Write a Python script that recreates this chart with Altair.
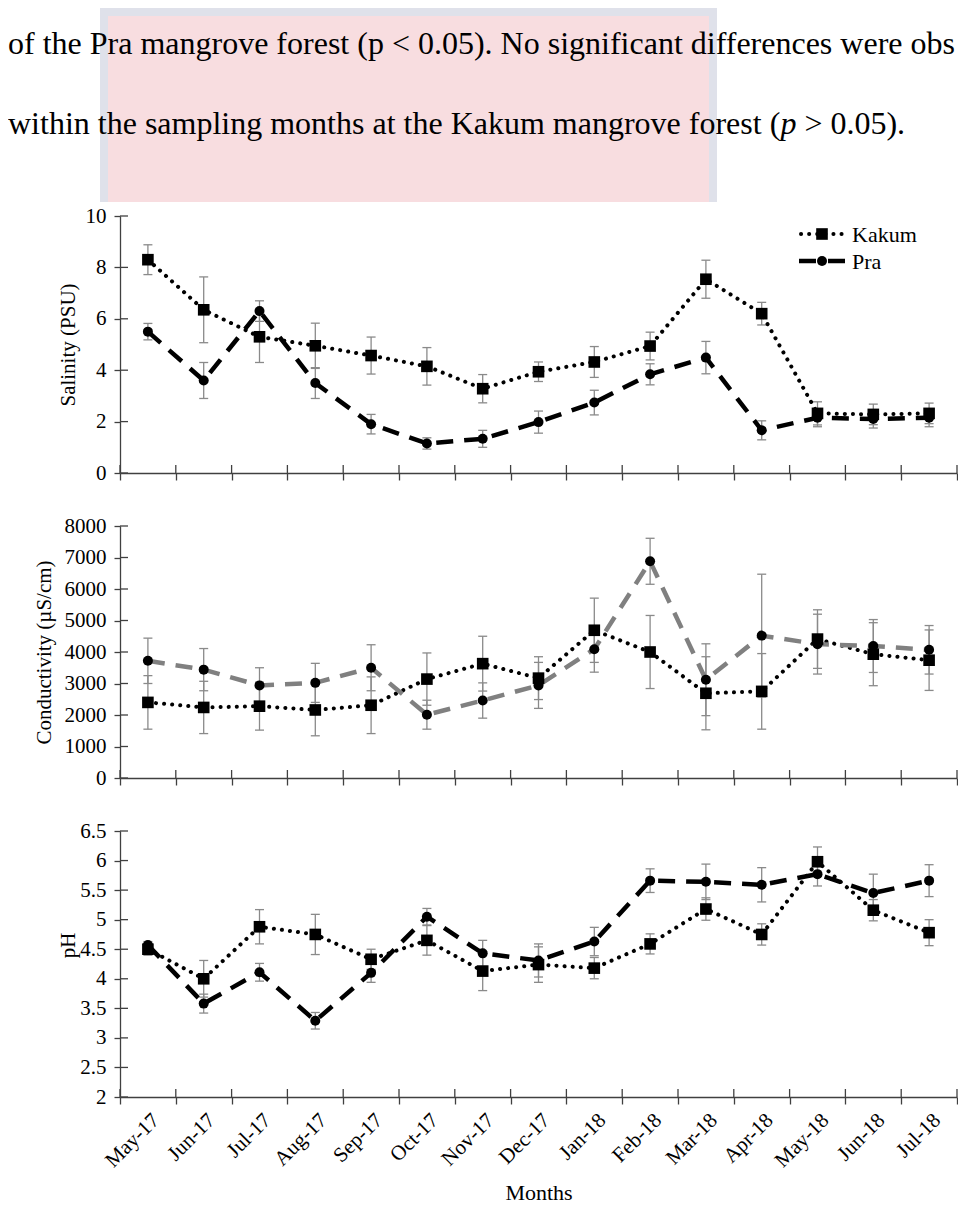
import altair as alt
import pandas as pd

# ---------------- data ----------------
MONTHS = ["May-17", "Jun-17", "Jul-17", "Aug-17", "Sep-17", "Oct-17", "Nov-17", "Dec-17",
          "Jan-18", "Feb-18", "Mar-18", "Apr-18", "May-18", "Jun-18", "Jul-18"]
SERIES = ["Kakum", "Pra"]

SAL_KAKUM = [8.3, 6.35, 5.3, 4.95, 4.57, 4.15, 3.28, 3.94, 4.32, 4.94, 7.54, 6.2, 2.32, 2.28, 2.32]
SAL_KAKUM_ERR = [0.58, 1.28, 1.0, 0.88, 0.72, 0.73, 0.55, 0.38, 0.6, 0.54, 0.74, 0.44, 0.45, 0.4, 0.4]
SAL_PRA = [5.5, 3.6, 6.3, 3.5, 1.9, 1.15, 1.33, 1.98, 2.74, 3.84, 4.49, 1.66, 2.15, 2.1, 2.15]
SAL_PRA_ERR = [0.32, 0.7, 0.4, 0.6, 0.38, 0.22, 0.33, 0.43, 0.48, 0.41, 0.63, 0.37, 0.35, 0.35, 0.35]

COND_KAKUM = [2400, 2240, 2280, 2160, 2310, 3140, 3630, 3170, 4690, 4000, 2690, 2750, 4410, 3930, 3740]
COND_KAKUM_ERR = [850, 830, 760, 820, 900, 830, 870, 680, 1020, 1160, 1160, 1200, 930, 1000, 960]
COND_PRA = [3720, 3440, 2940, 3020, 3500, 2010, 2460, 2940, 4090, 6880, 3120, 4520, 4250, 4190, 4070]
COND_PRA_ERR = [720, 670, 560, 620, 730, 460, 560, 730, 730, 730, 1140, 1950, 950, 840, 770]

PH_KAKUM = [4.5, 4.0, 4.88, 4.75, 4.33, 4.65, 4.13, 4.24, 4.18, 4.59, 5.18, 4.75, 5.98, 5.16, 4.78]
PH_KAKUM_ERR = [0.1, 0.31, 0.29, 0.34, 0.17, 0.25, 0.33, 0.3, 0.18, 0.17, 0.19, 0.18, 0.25, 0.18, 0.22]
PH_PRA = [4.57, 3.58, 4.11, 3.29, 4.1, 5.05, 4.43, 4.31, 4.63, 5.66, 5.64, 5.59, 5.77, 5.45, 5.66]
PH_PRA_ERR = [0.06, 0.16, 0.15, 0.14, 0.16, 0.14, 0.22, 0.28, 0.24, 0.2, 0.3, 0.29, 0.2, 0.32, 0.27]

SAL_TICKS = [0, 2, 4, 6, 8, 10]
COND_TICKS = [0, 1000, 2000, 3000, 4000, 5000, 6000, 7000, 8000]
PH_TICKS = [2, 2.5, 3, 3.5, 4, 4.5, 5, 5.5, 6, 6.5]

HEADER_1 = "of the Pra mangrove forest (p < 0.05). No significant differences were observed"
HEADER_2A = "within the sampling months at the Kakum mangrove forest ("
HEADER_2P = "p"
HEADER_2B = "> 0.05)."

# ---------------- style ----------------
FONT = "Liberation Serif"
AXIS_COLOR = "#404040"
ERR_COLOR = "#8a8a8a"
W = 837
HX = -112  # header text start, relative to the plot's left edge


def make_df(k, ke, p, pe):
    rows = []
    for s, vals, errs in ((SERIES[0], k, ke), (SERIES[1], p, pe)):
        for i, (m, v, e) in enumerate(zip(MONTHS, vals, errs)):
            rows.append({"i": i, "month": m, "series": s, "value": v, "lo": v - e, "hi": v + e})
    return pd.DataFrame(rows)


def panel(df, ticks, domain, height, ytitle, title_x, fmt, pra_color, bottom=False, legend=False,
          title_y=None):
    common = dict(domainColor=AXIS_COLOR, domainWidth=1.3, tickColor=AXIS_COLOR, tickWidth=1.3,
                  grid=False, labelFont=FONT, titleFont=FONT, labelColor="black",
                  titleColor="black", labelFontSize=21, titleFontWeight="normal")
    xsc = alt.Scale(type="band", domain=MONTHS, paddingInner=0, paddingOuter=0)
    if bottom:
        xaxis = alt.Axis(title="Months", tickBand="extent", tickSize=7, labelAngle=315,
                         labelAlign="right", labelBaseline="top", labelPadding=5,
                         titleY=102, titleBaseline="alphabetic", titleFontSize=22, **common)
    else:
        xaxis = alt.Axis(title=None, labels=False, tickBand="extent", tickSize=7, **common)
    yextra = {} if title_y is None else {"titleY": title_y}
    yaxis = alt.Axis(title=ytitle, values=ticks, format=fmt, tickSize=6, labelPadding=8,
                     titleX=title_x, titleAngle=270, titleBaseline="middle", titleAlign="center",
                     titleFontSize=21, **yextra, **common)
    ysc = alt.Scale(domain=domain, nice=False, zero=False)

    x = alt.X("month:O", scale=xsc, axis=xaxis, bandPosition=0.5)

    def Y(f):
        return alt.Y(f, scale=ysc, axis=yaxis)

    base = alt.Chart(df)
    layers = []
    # inward halves of the crossing ticks
    layers.append(alt.Chart(pd.DataFrame({"v": ticks})).mark_rule(color=AXIS_COLOR, strokeWidth=1.3)
                  .encode(y=Y("v:Q"), x=alt.value(0), x2=alt.value(8)))
    layers.append(alt.Chart(pd.DataFrame({"month": MONTHS})).mark_rule(color=AXIS_COLOR, strokeWidth=1.3)
                  .encode(x=alt.X("month:O", scale=xsc, axis=xaxis, bandPosition=0),
                          y=alt.value(height), y2=alt.value(height - 8)))
    layers.append(alt.Chart(pd.DataFrame({"month": MONTHS[-1:]})).mark_rule(color=AXIS_COLOR, strokeWidth=1.3)
                  .encode(x=alt.X("month:O", scale=xsc, axis=xaxis, bandPosition=1),
                          y=alt.value(height), y2=alt.value(height - 8)))
    # error bars
    layers.append(base.mark_rule(color=ERR_COLOR, strokeWidth=1.3).encode(x=x, y=Y("lo:Q"), y2="hi:Q"))
    for f in ("lo:Q", "hi:Q"):
        layers.append(base.mark_point(shape="M-1,0L1,0", size=81, stroke=ERR_COLOR, strokeWidth=1.3,
                                      filled=False, opacity=1).encode(x=x, y=Y(f)))
    k = base.transform_filter(alt.datum.series == SERIES[0])
    p = base.transform_filter(alt.datum.series == SERIES[1])
    layers.append(k.mark_line(color="black", strokeWidth=4, strokeDash=[0.1, 8], strokeCap="round")
                  .encode(x=x, y=Y("value:Q"), order="i:Q"))
    layers.append(p.mark_line(color=pra_color, strokeWidth=4.5, strokeDash=[17, 11])
                  .encode(x=x, y=Y("value:Q"), order="i:Q"))
    layers.append(k.mark_point(shape="square", size=135, filled=True, color="black", opacity=1)
                  .encode(x=x, y=Y("value:Q")))
    layers.append(p.mark_point(shape="circle", size=100, filled=True, color="black", opacity=1)
                  .encode(x=x, y=Y("value:Q")))

    if legend:
        lk = alt.Chart(pd.DataFrame({"series": [SERIES[0]]}))
        lp = alt.Chart(pd.DataFrame({"series": [SERIES[1]]}))
        layers += [
            lk.mark_rule(color="black", strokeWidth=4, strokeDash=[0.1, 8], strokeCap="round")
              .encode(x=alt.value(681), x2=alt.value(727), y=alt.value(18)),
            lk.mark_point(shape="square", size=135, filled=True, color="black", opacity=1)
              .encode(x=alt.value(702), y=alt.value(18)),
            lk.mark_text(align="left", baseline="middle", font=FONT, fontSize=22, color="black")
              .encode(x=alt.value(732), y=alt.value(19), text="series:N"),
            lp.mark_rule(color="black", strokeWidth=4.5, strokeDash=[17, 12])
              .encode(x=alt.value(679), x2=alt.value(725), y=alt.value(45)),
            lp.mark_point(shape="circle", size=100, filled=True, color="black", opacity=1)
              .encode(x=alt.value(702), y=alt.value(45)),
            lp.mark_text(align="left", baseline="middle", font=FONT, fontSize=22, color="black")
              .encode(x=alt.value(732), y=alt.value(46), text="series:N"),
        ]
    return alt.layer(*layers).properties(width=W, height=height)


# ---------------- header text (page text above the figure) ----------------
hdr = alt.Chart(pd.DataFrame({"t1": [HEADER_1], "t2a": [HEADER_2A], "t2p": [HEADER_2P], "t2b": [HEADER_2B]}))
header = alt.layer(
    hdr.mark_rect(color="#dfe1ea").encode(x=alt.value(-20), x2=alt.value(597), y=alt.value(-1), y2=alt.value(193)),
    hdr.mark_rect(color="#f8dde0").encode(x=alt.value(-12), x2=alt.value(589), y=alt.value(7), y2=alt.value(193)),
    hdr.mark_text(align="left", baseline="alphabetic", font=FONT, fontSize=32, color="black",
                  limit=958, ellipsis="\u200b").encode(x=alt.value(HX), y=alt.value(45), text="t1:N"),
    hdr.mark_text(align="left", baseline="alphabetic", font=FONT, fontSize=32, color="black")
       .encode(x=alt.value(HX), y=alt.value(125), text="t2a:N"),
    hdr.mark_text(align="left", baseline="alphabetic", font=FONT, fontSize=32, fontStyle="italic", color="black")
       .encode(x=alt.value(HX + 772.4), y=alt.value(125), text="t2p:N"),
    hdr.mark_text(align="left", baseline="alphabetic", font=FONT, fontSize=32, color="black")
       .encode(x=alt.value(HX + 796.4), y=alt.value(125), text="t2b:N"),
).properties(width=W, height=154)

sal = panel(make_df(SAL_KAKUM, SAL_KAKUM_ERR, SAL_PRA, SAL_PRA_ERR), SAL_TICKS, [0, 10], 257,
            "Salinity (PSU)", -52, "d", "black", legend=True)
cond = panel(make_df(COND_KAKUM, COND_KAKUM_ERR, COND_PRA, COND_PRA_ERR), COND_TICKS, [0, 8000], 252,
             "Conductivity (µS/cm)", -76, "d", "#808080")
ph = panel(make_df(PH_KAKUM, PH_KAKUM_ERR, PH_PRA, PH_PRA_ERR), PH_TICKS, [2, 6.5], 266,
           "pH", -52, ".1~f", "black", bottom=True, title_y=114)

chart = alt.vconcat(header, sal, cond, ph, spacing=53, bounds="flush").properties(
    padding={"left": 0, "top": 0, "right": 0, "bottom": 0}
).configure_view(stroke=None)

chart.save("out.html", embed_options={"renderer": "svg", "actions": False})
